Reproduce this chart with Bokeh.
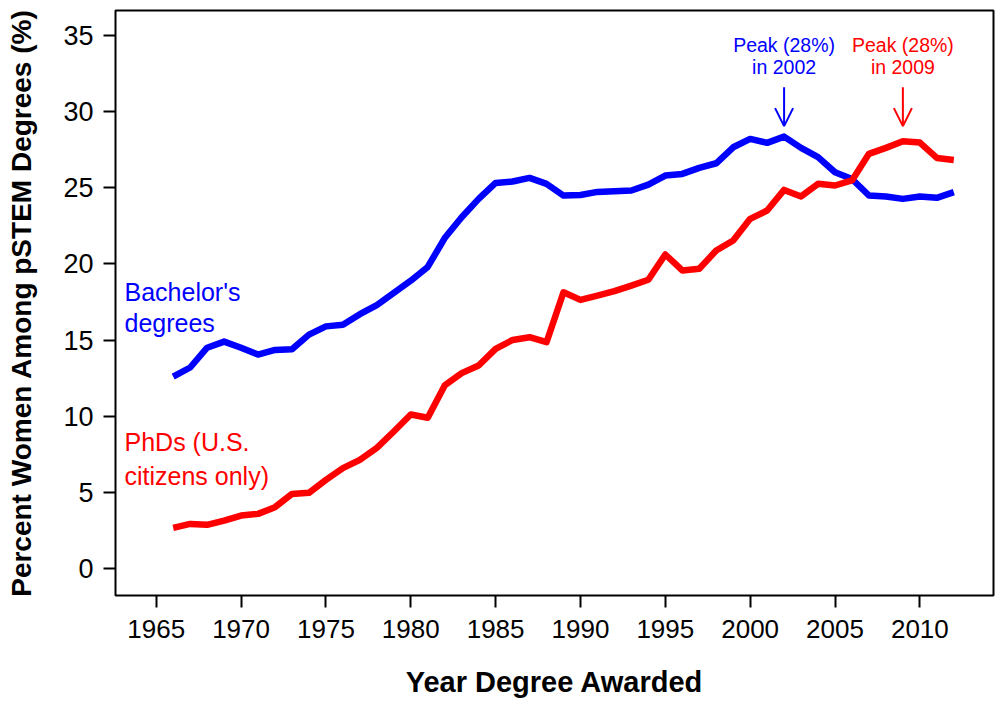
from bokeh.plotting import figure
from bokeh.models import Range1d, FixedTicker, Arrow, OpenHead
from bokeh.core.properties import value
from bokeh.embed import file_html
from bokeh.resources import INLINE

years = list(range(1966, 2013))
bachelors = [12.6, 13.2, 14.5, 14.9, 14.5, 14.05, 14.35, 14.4, 15.36, 15.9, 16.0, 16.7,
             17.3, 18.1, 18.9, 19.8,
             21.7, 23.07, 24.27, 25.32, 25.41, 25.65, 25.26, 24.49, 24.53, 24.73, 24.78,
             24.82, 25.21, 25.8, 25.91, 26.31, 26.61,
             27.66, 28.21, 27.95, 28.36, 27.62, 27.01, 26.02, 25.58, 24.49, 24.43, 24.27,
             24.43, 24.34, 24.71]
phds = [2.67, 2.93, 2.87, 3.15, 3.48, 3.59, 4.03, 4.9, 4.97, 5.82, 6.59, 7.13, 7.92,
        9.0, 10.11, 9.9,
        12.02, 12.83, 13.33, 14.42, 15.01, 15.19, 14.86, 18.14, 17.64, 17.92, 18.21,
        18.58, 18.96, 20.62, 19.57, 19.68, 20.88,
        21.54, 22.96, 23.51, 24.86, 24.43, 25.26, 25.15, 25.48, 27.23, 27.62, 28.06,
        27.97, 26.96, 26.83]

x_ticks = [1965, 1970, 1975, 1980, 1985, 1990, 1995, 2000, 2005, 2010]
y_ticks = [0, 5, 10, 15, 20, 25, 30, 35]

series_labels_blue = ["Bachelor's", "degrees"]
series_labels_red = ["PhDs (U.S.", "citizens only)"]
peak_blue = ["Peak (28%)", "in 2002"]
peak_red = ["Peak (28%)", "in 2009"]
peak_years = [2002, 2009]

FONT = "Liberation Sans"

p = figure(width=1000, height=704, output_backend="svg", toolbar_location=None,
           x_range=Range1d(1962.6, 2014.34), y_range=Range1d(-1.77, 36.64),
           min_border_left=115, min_border_right=7, min_border_top=10,
           min_border_bottom=109)
p.grid.visible = False
p.outline_line_color = "black"
p.outline_line_width = 2
p.background_fill_color = "white"
p.border_fill_color = "white"

for ax in (p.xaxis[0], p.yaxis[0]):
    ax.axis_line_color = None
    ax.major_tick_line_color = "black"
    ax.major_tick_line_width = 2
    ax.major_tick_out = 12
    ax.major_tick_in = 0
    ax.minor_tick_line_color = None
    ax.major_label_text_font = FONT
    ax.major_label_text_color = "black"
    ax.axis_label_text_font = FONT
    ax.axis_label_text_font_style = "bold"
    ax.axis_label_text_color = "black"

p.xaxis.ticker = FixedTicker(ticks=x_ticks)
p.yaxis.ticker = FixedTicker(ticks=y_ticks)
p.xaxis.axis_label = "Year Degree Awarded"
p.yaxis.axis_label = "Percent Women Among pSTEM Degrees (%)"
p.xaxis.major_label_text_font_size = "26px"
p.yaxis.major_label_text_font_size = "27px"
p.xaxis.axis_label_text_font_size = "29px"
p.yaxis.axis_label_text_font_size = "28px"
p.xaxis.major_label_standoff = 12
p.yaxis.major_label_standoff = 10
p.xaxis.axis_label_standoff = 25
p.yaxis.axis_label_standoff = 23
p.yaxis.major_label_orientation = "horizontal"

p.line(years, bachelors, line_color="#0000FF", line_width=6.5, line_join="round")
p.line(years, phds, line_color="#FF0000", line_width=6.5, line_join="round")

# series labels
p.text(x=[1963.13, 1963.13], y=[18.14, 16.09], text=series_labels_blue,
       text_font=value(FONT), text_font_size="25px", text_color="#0000FF",
       text_align="left", text_baseline="middle")
p.text(x=[1963.13, 1963.13], y=[8.29, 6.1], text=series_labels_red,
       text_font=value(FONT), text_font_size="25px", text_color="#FF0000",
       text_align="left", text_baseline="middle")

# peak annotations
p.text(x=[peak_years[0]] * 2, y=[34.4, 32.9], text=peak_blue,
       text_font=value(FONT), text_font_size="19.5px", text_color="#0000FF",
       text_align="center", text_baseline="middle")
p.text(x=[peak_years[1]] * 2, y=[34.4, 32.9], text=peak_red,
       text_font=value(FONT), text_font_size="19.5px", text_color="#FF0000",
       text_align="center", text_baseline="middle")

for yr, col in zip(peak_years, ["#0000FF", "#FF0000"]):
    p.add_layout(Arrow(end=OpenHead(size=18, line_color=col, line_width=2),
                       x_start=yr, y_start=31.6, x_end=yr, y_end=29.05,
                       line_color=col, line_width=2))

open("out.html", "w").write(file_html(p, INLINE))
